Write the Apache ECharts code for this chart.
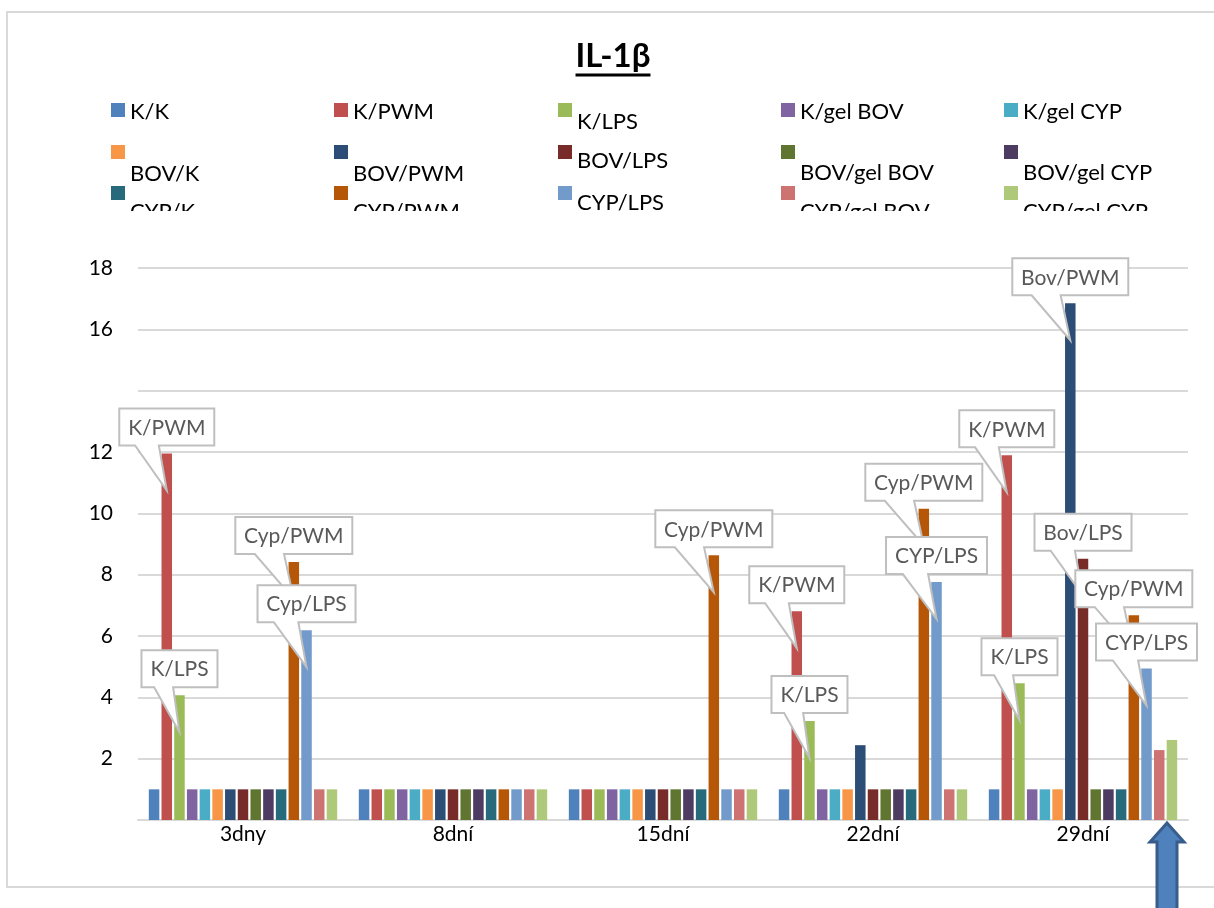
<!DOCTYPE html>
<html>
<head>
<meta charset="utf-8">
<script src="https://cdn.jsdelivr.net/npm/echarts@6/dist/echarts.min.js"></script>
<style>
  html, body { margin: 0; padding: 0; background: #fff; }
  #chart { width: 1214px; height: 908px; }
</style>
</head>
<body>
<div id="chart"></div>
<script>
// Sampling days
const categories = ['3dny', '8dní', '15dní', '22dní', '29dní'];

// IL-1β relative expression per group
const kK         = [1, 1, 1, 1, 1];
const kPWM       = [11.95, 1, 1, 6.81, 11.89];
const kLPS       = [4.07, 1, 1, 3.23, 4.46];
const kGelBOV    = [1, 1, 1, 1, 1];
const kGelCYP    = [1, 1, 1, 1, 1];
const bovK       = [1, 1, 1, 1, 1];
const bovPWM     = [1, 1, 1, 2.44, 16.85];
const bovLPS     = [1, 1, 1, 1, 8.52];
const bovGelBOV  = [1, 1, 1, 1, 1];
const bovGelCYP  = [1, 1, 1, 1, 1];
const cypK       = [1, 1, 1, 1, 1];
const cypPWM     = [8.41, 1, 8.63, 10.15, 6.68];
const cypLPS     = [6.19, 1, 1, 7.76, 4.94];
const cypGelBOV  = [1, 1, 1, 1, 2.28];
const cypGelCYP  = [1, 1, 1, 1, 2.61];

const seriesNames = ['K/K', 'K/PWM', 'K/LPS', 'K/gel BOV', 'K/gel CYP',
  'BOV/K', 'BOV/PWM', 'BOV/LPS', 'BOV/gel BOV', 'BOV/gel CYP',
  'CYP/K', 'CYP/PWM', 'CYP/LPS', 'CYP/gel BOV', 'CYP/gel CYP'];
const seriesValues = [kK, kPWM, kLPS, kGelBOV, kGelCYP,
  bovK, bovPWM, bovLPS, bovGelBOV, bovGelCYP,
  cypK, cypPWM, cypLPS, cypGelBOV, cypGelCYP];

// Callout labels: [category index, series index, text]
const callouts = [
  [0, 1, 'K/PWM'], [0, 2, 'K/LPS'], [0, 11, 'Cyp/PWM'], [0, 12, 'Cyp/LPS'],
  [2, 11, 'Cyp/PWM'],
  [3, 1, 'K/PWM'], [3, 2, 'K/LPS'], [3, 11, 'Cyp/PWM'], [3, 12, 'CYP/LPS'],
  [4, 1, 'K/PWM'], [4, 2, 'K/LPS'], [4, 6, 'Bov/PWM'], [4, 7, 'Bov/LPS'],
  [4, 11, 'Cyp/PWM'], [4, 12, 'CYP/LPS']
];

const palette = ['#4F81BD', '#C0504D', '#9BBB59', '#8064A2', '#4BACC6',
  '#F79646', '#2C4D75', '#772C2A', '#5F7530', '#4D3B62',
  '#276A7C', '#B65708', '#729ACA', '#CD7371', '#AFC97A'];

const FONT = 'Lato, "Open Sans", sans-serif';
const BAR_W = 10.5;
const BAR_GAP = 0.21;

// Centre of bar i relative to its category centre (same rule ECharts uses)
function barCenterOffset(i) {
  const n = seriesNames.length;
  const step = BAR_W * (1 + BAR_GAP);
  const total = n * step - BAR_W * BAR_GAP;
  return -total / 2 + i * step + BAR_W / 2;
}

const measureCtx = document.createElement('canvas').getContext('2d');
const CALLOUT_FONT = '21px ' + FONT;
function textWidth(t, font) {
  measureCtx.font = font;
  return measureCtx.measureText(t).width;
}

// Title placement and its underline
const TITLE = 'IL-1β';
const TITLE_FONT_SIZE = 33;
const titleW = textWidth(TITLE, 'bold ' + TITLE_FONT_SIZE + 'px ' + FONT);
const titleLeft = 613 - titleW / 2;

// Legend laid out as a 5-column grid; some labels sit lower than their swatch
const legendCols = [111, 334, 558, 781, 1004];
const legendRowTop = [105, 147, 188];
const legendShift = [[2, 2, 12, 2, 2], [22, 22, 9, 21, 21], [19, 19, 10, 19, 19]];
const LEGEND_LH = 26, LEGEND_ICON = 14;
const legends = seriesNames.map((name, i) => {
  const r = Math.floor(i / 5), c = i % 5;
  const s = legendShift[r][c];
  return {
    data: [{ name: name, icon: 'rect' }],
    formatter: '{t|{name}}',
    left: legendCols[c],
    top: legendRowTop[r] - (LEGEND_LH / 2 - LEGEND_ICON / 2) - s,
    padding: 0,
    itemWidth: LEGEND_ICON,
    itemHeight: LEGEND_ICON,
    selectedMode: false,
    textStyle: {
      fontFamily: FONT, fontSize: 22, color: '#000',
      rich: {
        t: { fontFamily: FONT, fontSize: 22, lineHeight: LEGEND_LH, color: '#000', padding: [2 * s, 0, 0, 0] }
      }
    }
  };
});

const barSeries = seriesNames.map((name, i) => ({
  name: name,
  type: 'bar',
  data: seriesValues[i],
  barWidth: BAR_W,
  barGap: (BAR_GAP * 100) + '%',
  itemStyle: { color: palette[i] },
  z: 2
}));

const calloutSeries = {
  type: 'custom',
  name: 'callouts',
  coordinateSystem: 'cartesian2d',
  data: callouts.map(c => [c[0], seriesValues[c[1]][c[0]]]),
  encode: { x: 0, y: 1 },
  clip: false,
  z: 10,
  silent: true,
  renderItem: function (params, api) {
    const c = callouts[params.dataIndex];
    const p = api.coord([api.value(0), api.value(1)]);
    const x = p[0] + barCenterOffset(c[1]);
    const barTop = p[1];
    const w = Math.round(textWidth(c[2], CALLOUT_FONT) + 18);
    const h = 37;
    const left = x - w / 2;
    const bottom = barTop - 8;
    const top = bottom - h;
    const tipY = barTop + 37;
    const b1 = left + w / 6, b2 = left + 5 * w / 12;
    return {
      type: 'group',
      children: [
        {
          type: 'polygon',
          shape: { points: [[left, top], [left + w, top], [left + w, bottom], [b2, bottom], [x, tipY], [b1, bottom], [left, bottom]] },
          style: { fill: '#fff', stroke: '#BFBFBF', lineWidth: 2 }
        },
        {
          type: 'text',
          style: {
            text: c[2], x: x, y: (top + bottom) / 2 + 1,
            align: 'center', verticalAlign: 'middle',
            fill: '#595959', font: CALLOUT_FONT
          }
        }
      ]
    };
  }
};

const chart = echarts.init(document.getElementById('chart'), null, { renderer: 'canvas' });
chart.setOption({
  animation: false,
  backgroundColor: '#fff',
  title: {
    text: TITLE,
    left: titleLeft,
    top: 40,
    padding: 0,
    textStyle: { fontFamily: FONT, fontWeight: 'bold', fontSize: TITLE_FONT_SIZE, color: '#000' }
  },
  legend: legends,
  grid: { left: 138, right: 26, top: 268, bottom: 88 },
  xAxis: {
    type: 'category',
    data: categories,
    axisTick: { show: false },
    axisLine: { lineStyle: { color: '#D9D9D9', width: 2 } },
    axisLabel: { fontFamily: FONT, fontSize: 21, color: '#000', margin: 4 }
  },
  yAxis: {
    type: 'value',
    min: 0, max: 18, interval: 2,
    axisLine: { show: false },
    axisTick: { show: false },
    splitLine: { lineStyle: { color: '#D9D9D9', width: 2 } },
    axisLabel: {
      fontFamily: FONT, fontSize: 21, color: '#000', margin: 25,
      formatter: v => (v === 0 || v === 14) ? '' : String(v)
    }
  },
  graphic: [
    { type: 'rect', z: -10, shape: { x: 7, y: 12, width: 1230, height: 875 },
      style: { fill: 'none', stroke: '#D9D9D9', lineWidth: 2 } },
    { type: 'line', z: 50, shape: { x1: titleLeft, y1: 75, x2: titleLeft + titleW, y2: 75 },
      style: { stroke: '#000', lineWidth: 3 } },
    { type: 'rect', z: 100, shape: { x: 30, y: 211, width: 1170, height: 30 },
      style: { fill: '#fff' } },
    { type: 'polygon', z: 100,
      shape: { points: [[1167, 823], [1184, 842], [1177, 842], [1177, 912], [1157, 912], [1157, 842], [1150, 842]] },
      style: { fill: '#4F81BD', stroke: '#385D8A', lineWidth: 3, lineJoin: 'miter' } }
  ],
  series: barSeries.concat([calloutSeries])
});
</script>
</body>
</html>
